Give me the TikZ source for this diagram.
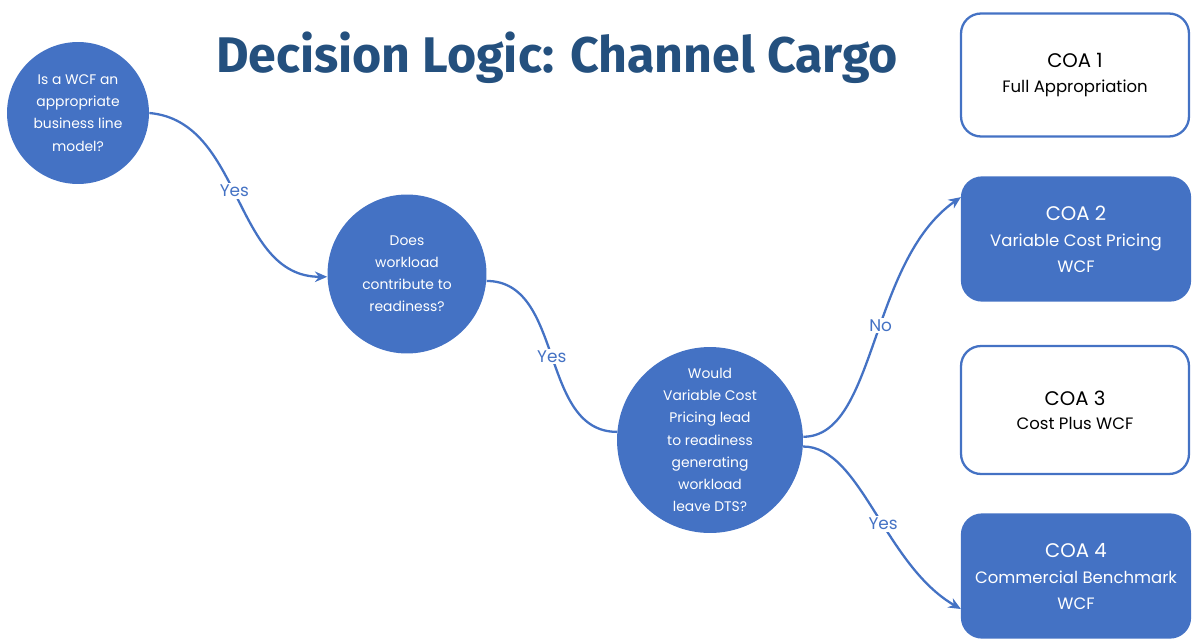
\documentclass[tikz,border=0pt]{standalone}
\usepackage{fontspec}
\setmainfont{Poppins}
\newfontfamily\titlefont{Fira Sans}
\usetikzlibrary{arrows.meta}
\definecolor{coablue}{HTML}{4472C4}
\definecolor{titleblue}{HTML}{24507E}

\begin{document}
\begin{tikzpicture}[x=0.02cm,y=0.02cm,
  question/.style={circle,fill=coablue,text=white,align=center,inner sep=0pt,font=\fontsize{7.9}{12.6}\selectfont},
  coabox/.style={draw=coablue,line width=1.3pt,rounded corners=0.4cm,align=center,minimum width=4.56cm,minimum height=2.46cm,font=\fontsize{9.4}{14.8}\selectfont},
  coafill/.style={coabox,fill=coablue,text=white},
  flow/.style={coablue,line width=1.3pt},
  answer/.style={midway,fill=white,text=coablue,inner sep=1pt,font=\fontsize{9.6}{11}\selectfont}]

 \useasboundingbox (0,0) rectangle (1192,-639); % canvas

 \node[anchor=base,text=titleblue,font=\titlefont\bfseries\fontsize{28.5}{32}\selectfont] (title) at (557,-72) {Decision Logic: Channel Cargo};

 % Questions
 \node[question,minimum size=2.84cm] (wcf) at (78,-113) {Is a WCF an\\appropriate\\business line\\model?};
 \node[question,minimum size=3.18cm] (workload) at (407,-274) {Does\\workload\\contribute to\\readiness?};
 \node[question,minimum size=3.72cm] (pricing) at (710,-440) {Would\\Variable Cost\\Pricing lead\\to readiness\\generating\\workload\\leave DTS?};

 % Courses of action
 \node[coabox] (coa1) at (1075,-75) {{\fontsize{11.2}{14}\selectfont COA 1}\\[-1pt]Full Appropriation};
 \node[coafill] (coa2) at (1076,-239) {{\fontsize{11.2}{14}\selectfont COA 2}\\Variable Cost Pricing\\WCF};
 \node[coabox,minimum height=2.56cm] (coa3) at (1075,-410) {{\fontsize{11.2}{14}\selectfont COA 3}\\[-1pt]Cost Plus WCF};
 \node[coafill] (coa4) at (1076,-576) {{\fontsize{11.2}{14}\selectfont COA 4}\\Commercial Benchmark\\WCF};

 % Connectors
 \draw[flow,-{Stealth[length=7pt,width=6pt]}] (wcf.east) to[out=-5,in=180] node[answer,pos=0.47] {Yes} (workload.182);
 \draw[flow] (workload.-5) to[out=0,in=180] node[answer] {Yes} (pricing.175);
 \draw[flow,-{Stealth[length=7pt,width=6pt]}] (pricing.2) to[out=0,in=215,out looseness=0.65] node[answer,pos=0.55] {No} (coa2.160);
 \draw[flow,-{Stealth[length=7pt,width=6pt]}] (pricing.-4) to[out=0,in=150,out looseness=0.65] node[answer,pos=0.56] {Yes} (coa4.196);

\end{tikzpicture}
\end{document}
